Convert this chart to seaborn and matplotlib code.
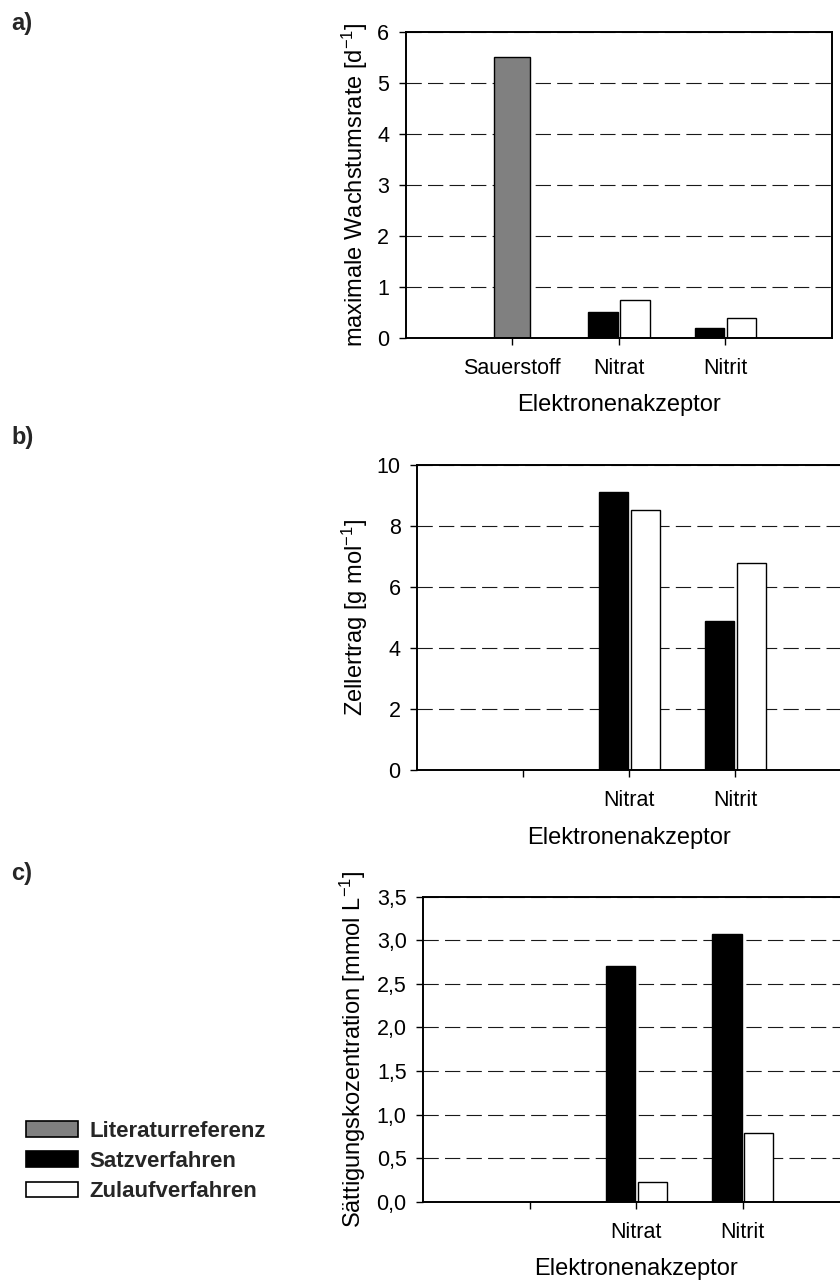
import matplotlib
matplotlib.use("Agg")
import matplotlib.pyplot as plt
from matplotlib.patches import Patch
import pandas as pd
import seaborn as sns

# Electron acceptors (category axis) and cultivation modes
akzeptoren = ["Sauerstoff", "Nitrat", "Nitrit"]
anaerob = ["Nitrat", "Nitrit"]
verfahren = ["Satzverfahren", "Zulaufverfahren"]
literatur = "Literaturreferenz"

# a) maximum growth rate [1/d]
rate_literatur = [5.52]
rate_satz = [0.51, 0.20]
rate_zulauf = [0.75, 0.39]

# b) cell yield [g/mol]
ertrag_satz = [9.12, 4.87]
ertrag_zulauf = [8.51, 6.78]

# c) saturation concentration [mmol/L]
ks_satz = [2.70, 3.07]
ks_zulauf = [0.23, 0.79]

# tick labels
xlabels_a = ["Sauerstoff", "Nitrat", "Nitrit"]
xlabels_bc = ["", "Nitrat", "Nitrit"]
yticks_a = [0, 1, 2, 3, 4, 5, 6]
ylabels_a = ["0", "1", "2", "3", "4", "5", "6"]
yticks_b = [0, 2, 4, 6, 8, 10]
ylabels_b = ["0", "2", "4", "6", "8", "10"]
yticks_c = [0.0, 0.5, 1.0, 1.5, 2.0, 2.5, 3.0, 3.5]
ylabels_c = ["0,0", "0,5", "1,0", "1,5", "2,0", "2,5", "3,0", "3,5"]

farben = {"Satzverfahren": "black", "Zulaufverfahren": "white"}
grau = "#808080"

sns.set_style("white")
plt.rcParams["font.family"] = ["Liberation Sans", "DejaVu Sans"]
plt.rcParams["mathtext.fontset"] = "custom"
plt.rcParams["mathtext.rm"] = "Liberation Sans"
plt.rcParams["mathtext.it"] = "Liberation Sans:italic"
plt.rcParams["mathtext.bf"] = "Liberation Sans:bold"
plt.rcParams["lines.scale_dashes"] = False

W, H = 840, 1282
fig = plt.figure(figsize=(W / 100, H / 100), dpi=100)


def px_axes(left, top, right, bottom):
    return fig.add_axes([left / W, 1 - bottom / H, (right - left) / W, (bottom - top) / H])


def panel(ax, lit, satz, zulauf, yticks, yticklabels, ylabel, xticklabels, ylabel_x):
    if lit:
        df_lit = pd.DataFrame({"Akzeptor": ["Sauerstoff"], "Wert": lit})
        sns.barplot(data=df_lit, x="Akzeptor", y="Wert", order=akzeptoren,
                    color=grau, saturation=1, width=0.34, edgecolor="black",
                    linewidth=1.0, errorbar=None, ax=ax)
    df = pd.DataFrame({
        "Akzeptor": anaerob * 2,
        "Verfahren": [v for v in verfahren for _ in anaerob],
        "Wert": list(satz) + list(zulauf),
    })
    sns.barplot(data=df, x="Akzeptor", y="Wert", hue="Verfahren",
                order=akzeptoren, hue_order=verfahren, palette=farben,
                saturation=1, width=0.6, gap=0.08, edgecolor="black",
                linewidth=1.0, errorbar=None, legend=False, ax=ax)

    ax.set_xlim(-1, 3)
    ax.set_ylim(yticks[0], yticks[-1])
    ax.set_yticks(yticks)
    ax.set_yticklabels(yticklabels)
    ax.set_xticks(range(len(akzeptoren)))
    ax.set_xticklabels(xticklabels)

    ax.set_axisbelow(True)
    ax.yaxis.grid(True, color="#1a1a1a", linewidth=0.8, linestyle=(0, (11, 4.5)))
    ax.xaxis.grid(False)

    for sp in ax.spines.values():
        sp.set_visible(True)
        sp.set_color("black")
        sp.set_linewidth(1.4)

    ax.tick_params(axis="y", left=True, direction="out", length=5, width=1,
                   pad=7, labelsize=15.5, colors="black")
    ax.tick_params(axis="x", bottom=True, direction="out", length=5, width=1,
                   pad=9.5, labelsize=15.5, colors="black")

    ax.set_ylabel(ylabel, fontsize=17, color="black")
    ax.yaxis.set_label_coords(ylabel_x, 0.5)
    ax.yaxis.label.set_va("center")
    ax.set_xlabel("Elektronenakzeptor", fontsize=17, color="black")
    ax.xaxis.set_label_coords(0.5, -0.222)
    ax.xaxis.label.set_va("center")


ax_a = px_axes(405.7, 32.3, 832.0, 337.7)
ax_b = px_axes(417.3, 464.7, 841.3, 770.0)
ax_c = px_axes(423.3, 896.7, 849.3, 1201.7)

panel(ax_a, rate_literatur, rate_satz, rate_zulauf, yticks_a, ylabels_a,
      r"maximale Wachstumsrate [d$^{-1}$]", xlabels_a, -0.119)
panel(ax_b, None, ertrag_satz, ertrag_zulauf, yticks_b, ylabels_b,
      r"Zellertrag [g mol$^{-1}$]", xlabels_bc, -0.147)
panel(ax_c, None, ks_satz, ks_zulauf, yticks_c, ylabels_c,
      r"Sättigungskozentration [mmol L$^{-1}$]", xlabels_bc, -0.165)

# panel letters
for buchstabe, top in [("a)", 12), ("b)", 426), ("c)", 862)]:
    fig.text(11 / W, 1 - top / H, buchstabe, fontsize=17, fontweight="bold",
             ha="left", va="top")

handles = [
    Patch(facecolor=grau, edgecolor="black", linewidth=1.2, label=literatur),
    Patch(facecolor=farben["Satzverfahren"], edgecolor="black", linewidth=1.2,
          label="Satzverfahren"),
    Patch(facecolor=farben["Zulaufverfahren"], edgecolor="black", linewidth=1.2,
          label="Zulaufverfahren"),
]
fig.legend(handles=handles, loc="center left",
           bbox_to_anchor=(26 / W, 1 - 1161.5 / H), frameon=False,
           prop={"weight": "bold", "size": 16}, handlelength=2.33,
           handleheight=0.72, handletextpad=0.54, labelspacing=0.42,
           borderpad=0, borderaxespad=0)

fig.savefig("out.png", dpi=100)
